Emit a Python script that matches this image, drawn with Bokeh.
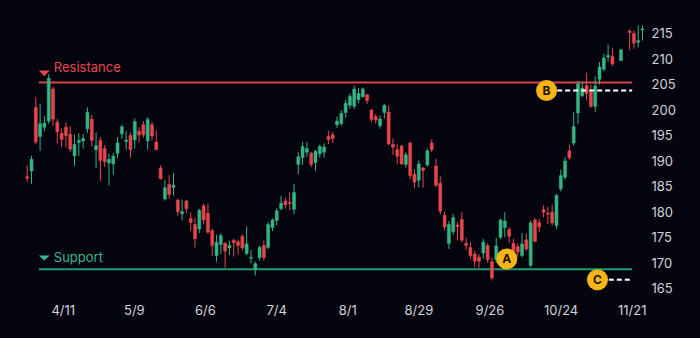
from bokeh.plotting import figure
from bokeh.models import Range1d, FixedTicker, CustomJSTickFormatter, ColumnDataSource
from bokeh.embed import file_html
from bokeh.resources import INLINE
from bokeh.core.properties import value

# ---------------- data ----------------
slot = list(range(137)) + [138, 140, 141, 142, 143]

open_ = [186.9, 188.0, 200.5, 194.8, 196.6, 197.8, 204.1, 197.6, 195.4, 196.6,
         195.2, 191.0, 193.6, 193.9, 196.3, 198.2, 192.2, 194.0, 192.4, 189.6,
         189.4, 191.5, 195.3, 193.8, 195.0, 194.1, 195.8, 197.1, 193.9, 197.1,
         193.7, 188.6, 182.5, 185.4, 184.8, 182.3, 179.6, 182.1, 178.7, 177.5,
         176.6, 181.2, 179.7, 176.3, 171.4, 173.6, 173.8, 172.9, 174.4, 174.1,
         175.2, 171.8, 170.9, 168.7, 171.0, 173.4, 173.0, 176.9, 178.3, 180.6,
         182.1, 181.85, 180.5, 189.3, 190.6, 191.7, 191.5, 189.7, 191.4, 191.7,
         194.8, 195.1, 197.1, 197.3, 199.5, 200.9, 200.7, 202.0, 202.6, 203.0,
         200.0, 198.7, 196.9, 199.5, 199.6, 193.2, 192.2, 192.9, 189.3, 193.5,
         187.4, 186.2, 188.6, 189.2, 193.5, 189.0, 185.6, 179.3, 173.8, 176.1,
         177.4, 178.5, 173.8, 173.0, 171.7, 171.1, 171.9, 173.4, 170.2, 170.6,
         175.0, 176.9, 176.5, 173.8, 173.2, 171.4, 174.5, 169.5, 178.4, 177.9,
         180.4, 179.7, 179.9, 177.3, 184.5, 186.8, 192.0, 193.5, 199.4, 202.8,
         204.8, 203.5, 200.7, 206.0, 208.0, 210.4, 210.5, 209.7, 215.5, 215.0,
         213.3, 215.7]
high = [189.1, 191.0, 202.4, 201.2, 198.8, 207.0, 204.6, 198.2, 196.3, 197.6,
        196.8, 195.2, 195.4, 195.3, 200.5, 199.0, 195.6, 194.7, 193.1, 191.4,
        191.5, 194.7, 197.1, 195.8, 195.6, 198.3, 196.6, 197.8, 198.6, 197.7,
        196.0, 189.1, 186.3, 187.2, 187.6, 182.6, 182.4, 182.3, 179.9, 178.8,
        180.6, 181.6, 181.6, 176.7, 175.5, 175.8, 174.0, 174.3, 174.7, 174.5,
        175.6, 177.1, 172.5, 170.2, 173.3, 174.4, 178.0, 178.7, 180.7, 183.1,
        182.8, 183.8, 185.4, 191.7, 193.7, 193.7, 191.8, 192.1, 193.2, 193.4,
        195.9, 195.7, 198.7, 199.9, 202.0, 203.2, 204.8, 204.3, 204.4, 203.1,
        200.2, 199.2, 198.9, 201.1, 200.8, 194.4, 193.3, 193.1, 191.7, 193.7,
        188.4, 190.1, 188.8, 192.4, 194.2, 190.4, 187.0, 180.0, 178.2, 179.6,
        178.0, 179.9, 174.9, 174.0, 172.4, 171.7, 174.7, 173.8, 171.0, 174.9,
        178.6, 179.9, 177.0, 174.7, 173.7, 175.8, 175.7, 178.3, 178.8, 178.6,
        181.3, 181.0, 181.4, 183.5, 188.3, 190.7, 193.2, 199.5, 205.7, 205.3,
        207.3, 205.0, 206.6, 209.4, 211.0, 212.8, 212.2, 211.9, 215.8, 215.6,
        216.6, 216.6]
low = [185.8, 185.5, 193.3, 192.0, 195.8, 197.3, 196.9, 193.4, 192.7, 192.6,
       191.8, 189.0, 191.0, 192.4, 195.5, 192.8, 188.6, 186.1, 188.8, 185.2,
       187.3, 190.5, 194.3, 192.2, 190.6, 192.4, 193.6, 194.5, 192.2, 194.0,
       192.1, 186.3, 182.2, 182.6, 183.2, 179.2, 178.3, 179.7, 176.3, 173.0,
       175.8, 177.5, 175.7, 171.3, 170.2, 171.7, 169.0, 171.5, 171.2, 171.6,
       172.4, 171.5, 169.9, 167.5, 170.4, 170.4, 172.7, 176.2, 177.3, 180.3,
       180.6, 180.3, 179.6, 187.4, 189.2, 190.8, 188.8, 188.0, 190.6, 190.6,
       193.3, 193.5, 196.5, 196.9, 198.5, 200.2, 200.2, 201.4, 202.4, 201.2,
       197.6, 197.3, 196.3, 198.3, 193.1, 191.2, 189.3, 189.2, 188.7, 186.4,
       184.6, 184.8, 184.7, 188.9, 191.7, 184.8, 179.5, 176.3, 172.7, 175.5,
       174.4, 174.0, 172.5, 170.8, 169.1, 169.0, 170.8, 170.0, 166.5, 170.0,
       174.6, 175.0, 173.9, 171.0, 171.2, 171.1, 172.3, 169.1, 174.0, 176.0,
       178.9, 177.6, 177.3, 176.6, 184.0, 186.3, 190.2, 193.0, 197.2, 202.5,
       201.9, 200.4, 199.6, 205.0, 207.6, 209.5, 208.6, 209.6, 211.7, 212.0,
       212.3, 213.6]
close = [186.6, 190.3, 193.7, 197.3, 197.4, 206.2, 198.2, 195.7, 194.2, 195.0,
         192.3, 193.2, 194.0, 194.4, 199.5, 194.0, 193.0, 190.1, 189.8, 190.3,
         190.9, 193.5, 196.7, 194.1, 192.2, 197.7, 195.1, 195.1, 198.1, 194.9,
         192.2, 186.5, 184.7, 183.4, 185.2, 180.0, 180.0, 180.6, 177.9, 174.7,
         180.3, 178.4, 176.0, 173.4, 174.0, 175.3, 172.3, 173.4, 173.9, 173.4,
         172.9, 173.7, 171.1, 169.8, 173.0, 171.0, 177.5, 178.4, 180.2, 181.7,
         181.4, 181.65, 183.8, 190.8, 192.8, 192.4, 189.3, 191.9, 192.8, 192.7,
         194.2, 194.4, 197.8, 199.3, 201.3, 202.7, 204.1, 203.2, 204.1, 201.8,
         198.1, 198.0, 198.2, 200.9, 193.3, 192.7, 190.9, 189.4, 191.2, 187.1,
         185.8, 189.4, 188.1, 192.0, 192.2, 185.2, 180.1, 177.0, 177.5, 178.85,
         177.1, 174.4, 173.4, 171.4, 170.3, 170.3, 174.0, 170.6, 167.0, 173.3,
         178.4, 178.2, 175.2, 172.3, 172.1, 173.7, 172.7, 177.8, 174.2, 177.0,
         179.9, 179.5, 177.8, 183.2, 187.1, 189.95, 190.6, 196.7, 205.1, 204.3,
         203.2, 200.7, 204.7, 208.4, 210.2, 210.7, 209.0, 211.8, 215.2, 213.1,
         213.6, 215.9]

resistance = 205.4
support = 168.7
tick_labels = ["4/11", "5/9", "6/6", "7/4", "8/1", "8/29", "9/26", "10/24", "11/21"]
y_ticks = [165, 170, 175, 180, 185, 190, 195, 200, 205, 210, 215]
marker_labels = ["A", "B", "C"]
marker_values = [170.75, 203.8, 166.65]

# ---------------- style ----------------
BG = "#04040f"
GREEN = "#35b583"
RED = "#e5474d"
YELLOW = "#f6b417"
AXIS_TXT = "#d2d2d8"
FONT = "Inter"

first_tick, tick_step = 8.37, 16.53
tick_pos = [first_tick + tick_step * k for k in range(len(tick_labels))]
line_start, line_end = 2.70, 140.6
marker_x = [111.46, 120.7, 132.53]
dash_start = [None, 123.17, 135.16]

p = figure(width=700, height=338, output_backend="svg", toolbar_location=None,
           x_range=Range1d(-3.881, 143.69), y_range=Range1d(163.567, 219.515),
           y_axis_location="right",
           min_border_left=10, min_border_right=55, min_border_top=10, min_border_bottom=43,
           background_fill_color=BG, border_fill_color=BG)
p.styles = {"background-color": BG}
p.outline_line_color = None
p.border_line_color = None
p.grid.visible = False

for ax in (p.xaxis[0], p.yaxis[0]):
    ax.axis_line_color = None
    ax.major_tick_line_color = None
    ax.minor_tick_line_color = None
    ax.major_tick_out = 0
    ax.major_label_text_color = AXIS_TXT
    ax.major_label_text_font = FONT
    ax.major_label_text_font_size = "13px"
    ax.major_label_standoff = 6

p.yaxis[0].ticker = FixedTicker(ticks=y_ticks)
p.xaxis[0].ticker = FixedTicker(ticks=tick_pos)
p.xaxis[0].formatter = CustomJSTickFormatter(args=dict(labels=tick_labels),
                                             code="const i = ticks.indexOf(tick); return i >= 0 ? labels[i] : '';")

colors = [GREEN if c >= o else RED for o, c in zip(open_, close)]
src = ColumnDataSource(dict(
    x=slot, o=open_, h=high, l=low, c=close,
    top=[max(o, c) for o, c in zip(open_, close)],
    bot=[min(o, c) for o, c in zip(open_, close)],
    col=colors,
))

# support / resistance
p.segment(x0=[line_start], y0=[resistance], x1=[line_end], y1=[resistance],
          line_color="#d8464b", line_width=2)
p.segment(x0=[line_start], y0=[support], x1=[line_end], y1=[support],
          line_color="#1e9a72", line_width=2)

# candles
p.segment(x0="x", y0="l", x1="x", y1="h", line_color="col", line_width=1, source=src)
p.vbar(x="x", width=0.7, top="top", bottom="bot", fill_color="col", line_color="col",
       line_width=0.5, source=src)

# labels with triangles
p.patch(x=[2.70, 5.25, 3.975], y=[207.74, 207.74, 206.6], fill_color=RED, line_color=None)
p.text(x=[6.18], y=[208.38], text=["Resistance"], text_font=value(FONT),
       text_font_size="13px", text_baseline="middle", text_color=RED)
p.patch(x=[2.70, 5.25, 3.975], y=[171.42, 171.42, 170.44], fill_color="#3db68a", line_color=None)
p.text(x=[6.18], y=[171.09], text=["Support"], text_font=value(FONT),
       text_font_size="13px", text_baseline="middle", text_color="#3db68a")

# dashed level lines for B and C
for i in (1, 2):
    p.segment(x0=[dash_start[i]], y0=[marker_values[i]], x1=[line_end], y1=[marker_values[i]],
              line_color="white", line_width=2, line_dash="5 3")

# annotation markers
p.scatter(x=marker_x, y=marker_values, size=21, marker="circle",
          fill_color=YELLOW, line_color=None)
p.text(x=marker_x, y=marker_values, text=marker_labels, text_font=value(FONT),
       text_font_size="12px", text_font_style="bold", text_align="center",
       text_baseline="middle", text_color="#1c1400")

open("out.html", "w").write(file_html(p, INLINE))
